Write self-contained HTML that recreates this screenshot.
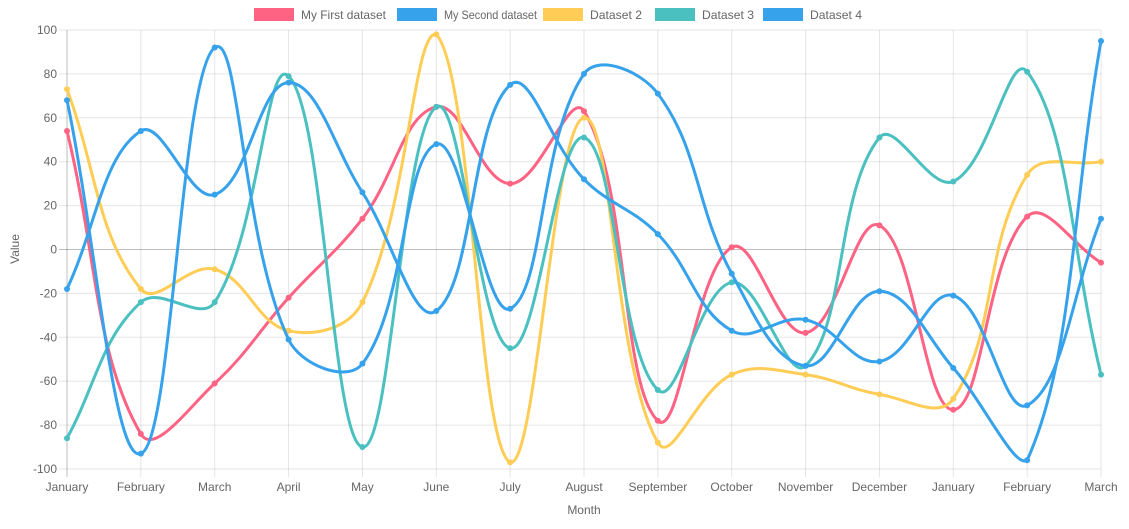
<!DOCTYPE html>
<html><head><meta charset="utf-8"><style>
html,body{margin:0;padding:0;background:#fff;}
svg{display:block;font-family:"Liberation Sans",Arial,sans-serif;}
</style></head><body>
<svg id="c" width="1129" height="529" xmlns="http://www.w3.org/2000/svg"></svg>
<script>
(function(){
var svg=document.getElementById('c');
var NS='http://www.w3.org/2000/svg';
function el(t,a,txt){var e=document.createElementNS(NS,t);for(var k in a)e.setAttribute(k,a[k]);if(txt!=null)e.textContent=txt;svg.appendChild(e);return e;}
var x0=67,x1=1101,yTop=30,yBot=469;
var labels=['January','February','March','April','May','June','July','August','September','October','November','December','January','February','March'];
var n=labels.length,dx=(x1-x0)/(n-1);
function X(i){return x0+i*dx;}
function Y(v){return yTop+(100-v)/200*(yBot-yTop);}
for(var v=-100;v<=100;v+=20){var y=Y(v);el('line',{x1:x0-8,x2:x1,y1:y,y2:y,stroke:v==0?'rgba(0,0,0,0.25)':'rgba(0,0,0,0.1)','stroke-width':1});
el('text',{x:x0-10,y:y+4,'text-anchor':'end','font-size':12,fill:'#666'},String(v));}
for(var i=0;i<n;i++){var x=X(i);el('line',{x1:x,x2:x,y1:yTop,y2:yBot+8,stroke:i==0?'rgba(0,0,0,0.25)':'rgba(0,0,0,0.1)','stroke-width':1});
el('text',{x:x,y:yBot+22,'text-anchor':'middle','font-size':12,fill:'#666'},labels[i]);}
el('text',{x:584,y:514,'text-anchor':'middle','font-size':12,fill:'#666'},'Month');
el('text',{x:19,y:249,'text-anchor':'middle','font-size':12,fill:'#666',transform:'rotate(-90 19 249)'},'Value');
var ds=[
{c:'rgb(255,99,132)',d:[54,-84,-61,-22,14,65,30,63,-78,1,-38,11,-73,15,-6]},
{c:'rgb(255,205,86)',d:[73,-18,-9,-37,-24,98,-97,60,-88,-57,-57,-66,-68,34,40]},
{c:'rgb(75,192,192)',d:[-86,-24,-24,79,-90,65,-45,51,-64,-15,-53,51,31,81,-57]},
{c:'rgb(54,162,235)',d:[68,-93,92,-41,-52,48,-27,80,71,-11,-53,-19,-54,-96,95]},
{c:'rgb(54,162,235)',d:[-18,54,25,76,26,-28,75,32,7,-37,-32,-51,-21,-71,14]}
];
var t=0.4;
function clampY(y){return Math.max(yTop,Math.min(yBot,y));}
ds.forEach(function(s){
 var p=s.d.map(function(v,i){return {x:X(i),y:Y(v)};});
 var cps=[];
 for(var i=0;i<p.length;i++){
  var pr=p[i-1]||p[i],cu=p[i],nx=p[i+1]||p[i];
  var d01=Math.hypot(cu.x-pr.x,cu.y-pr.y),d12=Math.hypot(nx.x-cu.x,nx.y-cu.y);
  var s01=d01/(d01+d12)||0,s12=d12/(d01+d12)||0;
  var fa=t*s01,fb=t*s12;
  cps.push({px:cu.x-fa*(nx.x-pr.x),py:clampY(cu.y-fa*(nx.y-pr.y)),nx:cu.x+fb*(nx.x-pr.x),ny:clampY(cu.y+fb*(nx.y-pr.y))});
 }
 var d='M'+p[0].x+','+p[0].y;
 for(var i=1;i<p.length;i++){d+=' C'+cps[i-1].nx+','+cps[i-1].ny+' '+cps[i].px+','+cps[i].py+' '+p[i].x+','+p[i].y;}
 el('path',{d:d,fill:'none',stroke:s.c,'stroke-width':3});
 p.forEach(function(q){el('circle',{cx:q.x,cy:q.y,r:3,fill:s.c});});
});
var leg=[[254,'rgb(255,99,132)','My First dataset',85],[397,'rgb(54,162,235)','My Second dataset',93],[543,'rgb(255,205,86)','Dataset 2',52],[655,'rgb(75,192,192)','Dataset 3',52],[763,'rgb(54,162,235)','Dataset 4',52]];
leg.forEach(function(l){el('rect',{x:l[0],y:8,width:40,height:13,fill:l[1]});el('text',{x:l[0]+47,y:19,'font-size':12,fill:'#666',textLength:l[3],lengthAdjust:'spacingAndGlyphs'},l[2]);});
})();
</script>
</body></html>
